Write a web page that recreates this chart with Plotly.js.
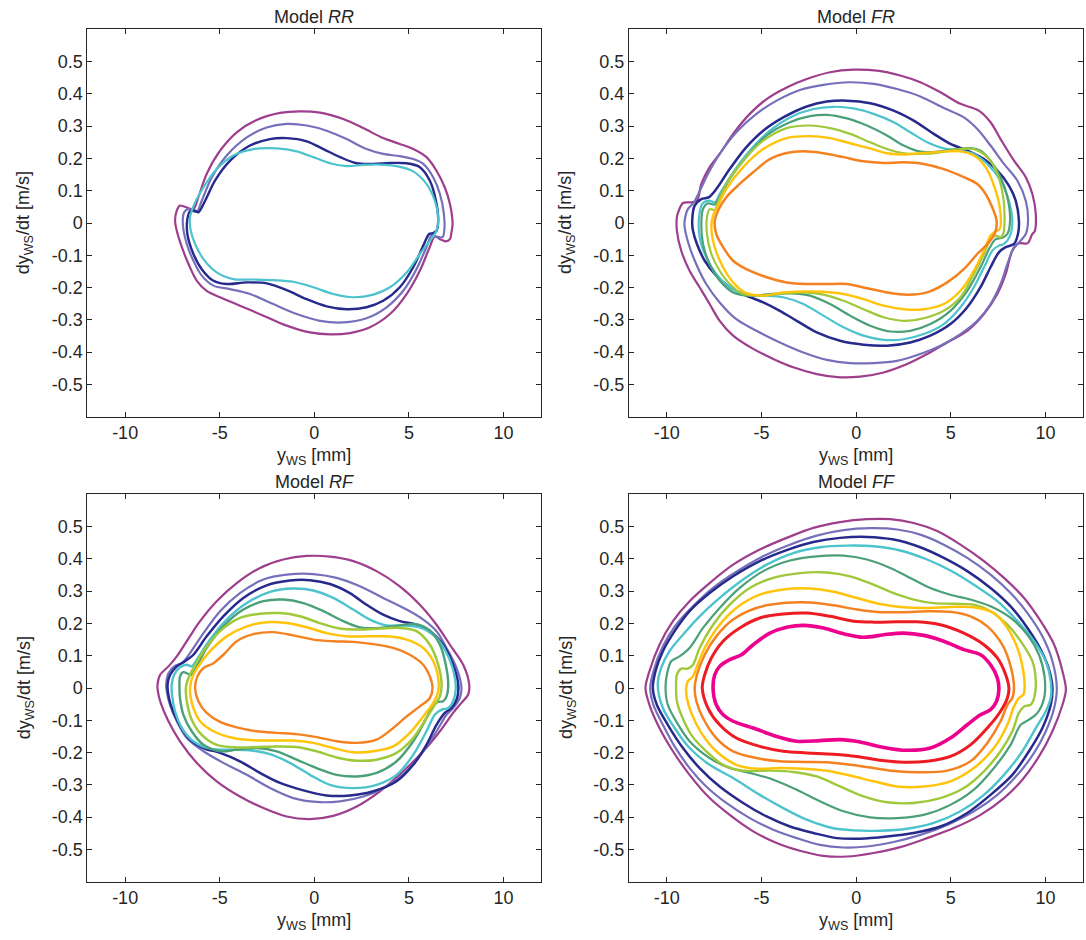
<!DOCTYPE html>
<html>
<head>
<meta charset="utf-8">
<script src="https://cdn.plot.ly/plotly-3.0.1.min.js"></script>
<style>
html,body{margin:0;padding:0;background:#fff;}
#chart{width:1086px;height:940px;}
</style>
</head>
<body>
<div id="chart"></div>
<script>
// ---------- Tick labels ----------
const xTickVals = [-10, -5, 0, 5, 10];
const xTickText = ["-10", "-5", "0", "5", "10"];
const yTickVals = [0.5, 0.4, 0.3, 0.2, 0.1, 0, -0.1, -0.2, -0.3, -0.4, -0.5];
const yTickText = ["0.5", "0.4", "0.3", "0.2", "0.1", "0", "-0.1", "-0.2", "-0.3", "-0.4", "-0.5"];
const panelTitles = ["Model <i>RR</i>", "Model <i>FR</i>", "Model <i>RF</i>", "Model <i>FF</i>"];

// ---------- Model RR: [y_WS (mm), dy_WS/dt (m/s)] ----------
const rr_magenta = [[-7.1,0.054],[-6.4,0.043],[-6.13,0.08],[-5.69,0.152],[-4.98,0.224],[-4.1,0.281],[-3.05,0.319],[-1.81,0.341],[-0.76,0.346],[0.3,0.342],[1.53,0.322],[2.59,0.294],[3.64,0.263],[4.52,0.245],[5.23,0.229],[5.93,0.204],[6.46,0.162],[6.9,0.11],[7.17,0.059],[7.31,-0.003],[7.25,-0.029],[7.17,-0.05],[6.95,-0.057],[6.64,-0.05],[6.37,-0.042],[6.1,-0.075],[5.58,-0.148],[4.88,-0.22],[4.0,-0.282],[2.94,-0.323],[1.88,-0.341],[0.83,-0.345],[-0.23,-0.339],[-1.46,-0.318],[-2.69,-0.287],[-3.93,-0.256],[-4.98,-0.23],[-5.69,-0.21],[-6.21,-0.179],[-6.65,-0.127],[-7.0,-0.075],[-7.27,-0.024],[-7.36,0.007],[-7.27,0.038]];
const rr_lavender = [[-6.2,0.035],[-5.95,0.069],[-5.42,0.141],[-4.63,0.209],[-3.57,0.265],[-2.52,0.296],[-1.46,0.307],[-0.4,0.302],[0.65,0.286],[1.71,0.26],[2.76,0.229],[3.64,0.214],[4.52,0.207],[5.23,0.198],[5.76,0.183],[6.29,0.141],[6.64,0.09],[6.85,0.028],[6.87,-0.024],[6.78,-0.044],[6.46,-0.042],[6.2,-0.039],[5.93,-0.075],[5.4,-0.143],[4.7,-0.21],[3.82,-0.261],[2.76,-0.295],[1.53,-0.308],[0.3,-0.303],[-0.93,-0.282],[-2.17,-0.251],[-3.4,-0.22],[-4.45,-0.205],[-5.33,-0.194],[-5.95,-0.163],[-6.39,-0.117],[-6.74,-0.065],[-6.95,-0.003],[-6.88,0.033],[-6.65,0.043],[-6.39,0.036]];
const rr_navy = [[-6.13,0.033],[-5.77,0.069],[-5.25,0.131],[-4.45,0.193],[-3.4,0.24],[-2.34,0.26],[-1.46,0.263],[-0.4,0.253],[0.48,0.229],[1.36,0.204],[2.24,0.185],[3.12,0.183],[4.0,0.186],[4.88,0.185],[5.58,0.173],[6.11,0.131],[6.43,0.069],[6.55,0.007],[6.46,-0.024],[6.25,-0.032],[6.07,-0.034],[5.76,-0.07],[5.23,-0.137],[4.52,-0.199],[3.64,-0.241],[2.76,-0.261],[1.71,-0.267],[0.65,-0.258],[-0.4,-0.236],[-1.46,-0.208],[-2.52,-0.187],[-3.57,-0.184],[-4.63,-0.189],[-5.33,-0.179],[-5.95,-0.143],[-6.39,-0.096],[-6.71,-0.034],[-6.71,0.012],[-6.57,0.036],[-6.3,0.038]];
const rr_cyan = [[-6.57,0.018],[-6.3,0.064],[-5.86,0.11],[-5.16,0.167],[-4.28,0.209],[-3.22,0.229],[-1.99,0.231],[-0.93,0.222],[-0.05,0.204],[0.83,0.185],[1.71,0.176],[2.59,0.18],[3.47,0.181],[4.35,0.176],[5.23,0.16],[5.93,0.121],[6.37,0.069],[6.55,0.018],[6.46,-0.024],[6.11,-0.055],[5.58,-0.096],[4.88,-0.153],[4.0,-0.199],[3.12,-0.222],[2.06,-0.23],[1.0,-0.22],[-0.05,-0.199],[-1.11,-0.182],[-2.17,-0.177],[-3.22,-0.175],[-4.28,-0.174],[-5.16,-0.153],[-5.86,-0.112],[-6.3,-0.065],[-6.53,-0.024]];

// ---------- Model FR ----------
const fr_magenta = [[-9.42,0.03],[-9.15,0.062],[-8.71,0.064],[-8.41,0.069],[-8.18,0.121],[-7.74,0.173],[-7.21,0.214],[-6.5,0.276],[-5.62,0.338],[-4.73,0.384],[-3.67,0.42],[-2.61,0.446],[-1.38,0.467],[-0.14,0.475],[1.1,0.472],[2.33,0.457],[3.39,0.436],[4.45,0.405],[5.51,0.369],[6.48,0.348],[7.1,0.312],[7.63,0.26],[8.34,0.193],[8.96,0.142],[9.31,0.09],[9.49,0.028],[9.43,-0.026],[9.31,-0.034],[9.05,-0.063],[8.6,-0.063],[8.25,-0.086],[7.9,-0.158],[7.46,-0.22],[6.75,-0.282],[5.87,-0.334],[4.81,-0.37],[3.75,-0.406],[2.69,-0.437],[1.45,-0.463],[0.21,-0.476],[-0.85,-0.478],[-2.08,-0.468],[-3.32,-0.447],[-4.38,-0.421],[-5.44,-0.39],[-6.5,-0.349],[-7.21,-0.303],[-7.74,-0.251],[-8.27,-0.199],[-8.8,-0.148],[-9.24,-0.086],[-9.47,-0.024],[-9.47,0.018]];
const fr_lavender = [[-9.06,0.007],[-8.89,0.043],[-8.59,0.062],[-7.83,0.152],[-7.21,0.214],[-6.33,0.281],[-5.27,0.338],[-4.2,0.379],[-2.97,0.412],[-1.73,0.428],[-0.32,0.436],[0.92,0.431],[2.16,0.415],[3.39,0.392],[4.63,0.356],[5.69,0.327],[6.4,0.291],[7.1,0.24],[7.81,0.183],[8.52,0.131],[8.96,0.069],[9.08,0.007],[8.96,-0.034],[8.6,-0.06],[8.34,-0.075],[7.99,-0.127],[7.63,-0.189],[7.1,-0.251],[6.4,-0.303],[5.51,-0.344],[4.45,-0.38],[3.39,-0.406],[2.16,-0.427],[0.92,-0.434],[-0.32,-0.434],[-1.55,-0.424],[-2.79,-0.401],[-4.03,-0.37],[-5.27,-0.334],[-6.33,-0.298],[-7.21,-0.246],[-7.92,-0.189],[-8.45,-0.127],[-8.85,-0.065],[-9.06,-0.013]];
const fr_navy = [[-8.66,0.007],[-8.53,0.054],[-8.18,0.074],[-7.77,0.08],[-7.39,0.105],[-6.68,0.167],[-5.8,0.235],[-4.91,0.286],[-3.85,0.327],[-2.61,0.361],[-1.55,0.376],[-0.49,0.379],[0.74,0.371],[1.98,0.348],[3.04,0.317],[4.1,0.276],[4.98,0.245],[5.87,0.224],[6.75,0.198],[7.46,0.162],[8.07,0.116],[8.43,0.069],[8.6,0.007],[8.55,-0.034],[8.34,-0.065],[7.9,-0.075],[7.54,-0.091],[7.1,-0.137],[6.57,-0.199],[5.87,-0.261],[4.98,-0.313],[3.92,-0.349],[2.86,-0.37],[1.63,-0.38],[0.39,-0.377],[-0.85,-0.365],[-2.08,-0.339],[-3.14,-0.303],[-4.03,-0.272],[-4.91,-0.246],[-5.8,-0.225],[-6.68,-0.199],[-7.39,-0.163],[-8.0,-0.117],[-8.41,-0.065],[-8.62,-0.024]];
const fr_cyan = [[-7.21,0.09],[-6.5,0.157],[-5.62,0.224],[-4.56,0.286],[-3.5,0.327],[-2.26,0.353],[-1.2,0.36],[-0.14,0.355],[0.92,0.338],[1.98,0.312],[2.86,0.281],[3.75,0.25],[4.63,0.231],[5.51,0.224],[6.22,0.214],[6.93,0.183],[7.63,0.131],[8.07,0.069],[8.25,0.007],[8.13,-0.039],[7.81,-0.065],[7.54,-0.07],[7.19,-0.086],[6.84,-0.127],[6.22,-0.199],[5.51,-0.261],[4.63,-0.313],[3.57,-0.344],[2.51,-0.36],[1.45,-0.362],[0.39,-0.349],[-0.67,-0.323],[-1.73,-0.287],[-2.79,-0.251],[-3.85,-0.23],[-4.91,-0.225],[-5.8,-0.222],[-6.68,-0.199],[-7.39,-0.158],[-7.92,-0.106],[-8.27,-0.044],[-8.3,0.018],[-8.13,0.059],[-7.77,0.069],[-7.47,0.064]];
const fr_teal = [[-7.21,0.08],[-6.68,0.136],[-5.8,0.204],[-4.73,0.271],[-3.5,0.312],[-2.44,0.331],[-1.55,0.335],[-0.49,0.324],[0.57,0.302],[1.63,0.271],[2.51,0.24],[3.39,0.221],[4.45,0.222],[5.34,0.229],[6.04,0.232],[6.57,0.224],[7.1,0.193],[7.63,0.142],[7.99,0.08],[8.13,0.007],[7.99,-0.034],[7.72,-0.046],[7.37,-0.05],[7.07,-0.075],[6.57,-0.137],[5.87,-0.21],[4.98,-0.272],[3.92,-0.313],[2.86,-0.334],[1.8,-0.336],[0.74,-0.318],[-0.32,-0.287],[-1.38,-0.251],[-2.44,-0.225],[-3.5,-0.218],[-4.56,-0.22],[-5.62,-0.225],[-6.5,-0.215],[-7.21,-0.178],[-7.74,-0.127],[-8.09,-0.065],[-8.18,-0.003],[-8.09,0.043],[-7.83,0.061],[-7.47,0.057]];
const fr_yellowgreen = [[-7.3,0.064],[-6.86,0.121],[-5.97,0.193],[-4.91,0.255],[-3.67,0.294],[-2.44,0.302],[-1.38,0.294],[-0.32,0.276],[0.74,0.25],[1.63,0.229],[2.51,0.216],[3.39,0.214],[4.45,0.219],[5.51,0.229],[6.22,0.229],[6.93,0.204],[7.46,0.152],[7.77,0.08],[7.84,0.007],[7.77,-0.034],[7.63,-0.044],[7.37,-0.039],[7.1,-0.05],[6.75,-0.096],[6.22,-0.158],[5.51,-0.23],[4.63,-0.272],[3.57,-0.295],[2.51,-0.303],[1.45,-0.292],[0.39,-0.267],[-0.67,-0.241],[-1.73,-0.222],[-2.79,-0.215],[-3.85,-0.218],[-4.91,-0.225],[-5.97,-0.22],[-6.68,-0.189],[-7.21,-0.148],[-7.65,-0.096],[-7.88,-0.034],[-7.88,0.018],[-7.74,0.043],[-7.47,0.04]];
const fr_gold = [[-7.3,0.054],[-6.86,0.105],[-5.97,0.173],[-4.91,0.229],[-3.67,0.263],[-2.44,0.269],[-1.38,0.263],[-0.32,0.247],[0.74,0.231],[1.63,0.216],[2.51,0.212],[3.39,0.216],[4.45,0.221],[5.51,0.222],[6.22,0.209],[6.84,0.173],[7.37,0.1],[7.63,0.028],[7.58,-0.019],[7.37,-0.026],[7.1,-0.039],[6.75,-0.086],[6.22,-0.148],[5.51,-0.21],[4.63,-0.251],[3.57,-0.267],[2.51,-0.267],[1.45,-0.256],[0.39,-0.236],[-0.67,-0.22],[-1.73,-0.213],[-2.79,-0.212],[-3.85,-0.215],[-4.91,-0.225],[-5.88,-0.215],[-6.5,-0.184],[-7.03,-0.137],[-7.47,-0.075],[-7.65,-0.013],[-7.56,0.023]];
const fr_orange = [[-7.47,0.007],[-7.3,0.038],[-6.86,0.08],[-6.15,0.121],[-5.44,0.157],[-4.56,0.198],[-3.67,0.217],[-2.79,0.222],[-1.73,0.216],[-0.67,0.204],[0.39,0.191],[1.45,0.186],[2.51,0.188],[3.57,0.183],[4.63,0.167],[5.69,0.142],[6.4,0.121],[6.84,0.09],[7.19,0.049],[7.42,0.007],[7.37,-0.024],[7.01,-0.06],[6.4,-0.096],[5.69,-0.143],[4.81,-0.184],[3.75,-0.215],[2.69,-0.222],[1.63,-0.215],[0.57,-0.202],[-0.49,-0.189],[-1.55,-0.189],[-2.61,-0.189],[-3.67,-0.184],[-4.73,-0.168],[-5.8,-0.143],[-6.5,-0.117],[-7.03,-0.075],[-7.39,-0.034]];

// ---------- Model RF ----------
const rf_magenta = [[-8.29,0.01],[-8.15,0.041],[-7.71,0.067],[-7.27,0.098],[-6.74,0.145],[-6.04,0.207],[-5.16,0.269],[-4.1,0.325],[-2.87,0.372],[-1.64,0.398],[-0.4,0.409],[0.83,0.407],[2.06,0.393],[3.29,0.362],[4.52,0.315],[5.58,0.258],[6.46,0.196],[7.17,0.134],[7.87,0.072],[8.19,0.01],[8.13,-0.021],[7.78,-0.046],[7.34,-0.077],[6.64,-0.134],[5.76,-0.196],[4.7,-0.258],[3.47,-0.32],[2.24,-0.367],[1.0,-0.396],[-0.23,-0.406],[-1.46,-0.398],[-2.69,-0.372],[-3.93,-0.336],[-5.16,-0.289],[-6.21,-0.232],[-7.1,-0.165],[-7.71,-0.103],[-8.12,-0.046],[-8.27,-0.01]];
const rf_lavender = [[-7.83,0.01],[-7.71,0.046],[-7.36,0.069],[-7.0,0.077],[-6.57,0.108],[-5.86,0.17],[-4.98,0.238],[-3.93,0.294],[-2.69,0.336],[-1.46,0.351],[-0.05,0.353],[1.18,0.341],[2.41,0.315],[3.64,0.279],[4.88,0.243],[5.76,0.212],[6.46,0.176],[6.99,0.124],[7.52,0.062],[7.78,0.0],[7.69,-0.031],[7.34,-0.062],[6.99,-0.083],[6.46,-0.134],[5.76,-0.196],[4.88,-0.258],[3.82,-0.305],[2.59,-0.336],[1.36,-0.351],[0.12,-0.353],[-1.11,-0.341],[-2.34,-0.31],[-3.57,-0.269],[-4.81,-0.232],[-5.86,-0.196],[-6.74,-0.155],[-7.27,-0.103],[-7.66,-0.046],[-7.8,-0.01]];
const rf_navy = [[-7.76,0.01],[-7.62,0.041],[-7.27,0.067],[-6.83,0.083],[-6.39,0.103],[-5.69,0.16],[-4.81,0.222],[-3.75,0.279],[-2.52,0.318],[-1.29,0.333],[-0.23,0.334],[0.83,0.322],[1.88,0.294],[2.76,0.258],[3.64,0.227],[4.52,0.207],[5.4,0.196],[6.11,0.176],[6.81,0.134],[7.34,0.072],[7.61,0.01],[7.55,-0.031],[7.25,-0.062],[6.9,-0.077],[6.46,-0.114],[5.93,-0.176],[5.23,-0.238],[4.35,-0.289],[3.12,-0.32],[1.88,-0.333],[0.65,-0.333],[-0.58,-0.317],[-1.81,-0.294],[-2.87,-0.263],[-3.93,-0.227],[-4.98,-0.201],[-5.86,-0.186],[-6.65,-0.155],[-7.18,-0.108],[-7.59,-0.052],[-7.73,-0.015]];
const rf_cyan = [[-7.54,0.01],[-7.41,0.041],[-7.1,0.064],[-6.74,0.072],[-6.48,0.067],[-6.21,0.088],[-5.51,0.15],[-4.63,0.212],[-3.57,0.263],[-2.34,0.298],[-1.11,0.308],[-0.05,0.302],[1.0,0.279],[2.06,0.243],[2.94,0.212],[3.82,0.194],[4.7,0.194],[5.58,0.188],[6.29,0.165],[6.9,0.119],[7.31,0.062],[7.48,0.0],[7.34,-0.041],[7.08,-0.062],[6.73,-0.067],[6.37,-0.083],[5.93,-0.134],[5.23,-0.207],[4.35,-0.269],[3.29,-0.3],[2.06,-0.31],[0.83,-0.3],[-0.23,-0.269],[-1.29,-0.232],[-2.34,-0.205],[-3.4,-0.193],[-4.45,-0.191],[-5.51,-0.188],[-6.39,-0.165],[-7.0,-0.124],[-7.36,-0.072],[-7.52,-0.021]];
const rf_teal = [[-7.13,0.01],[-7.1,0.036],[-6.92,0.049],[-6.65,0.043],[-6.48,0.041],[-6.21,0.067],[-5.69,0.124],[-4.81,0.191],[-3.75,0.243],[-2.69,0.269],[-1.64,0.274],[-0.58,0.263],[0.48,0.238],[1.53,0.207],[2.41,0.188],[3.47,0.186],[4.52,0.194],[5.4,0.198],[6.11,0.178],[6.64,0.134],[6.95,0.072],[7.08,0.01],[6.99,-0.026],[6.81,-0.041],[6.55,-0.043],[6.29,-0.052],[5.93,-0.093],[5.23,-0.165],[4.35,-0.227],[3.29,-0.263],[2.24,-0.274],[1.18,-0.269],[0.12,-0.248],[-0.93,-0.222],[-1.99,-0.196],[-3.05,-0.186],[-4.1,-0.191],[-4.98,-0.196],[-5.86,-0.176],[-6.48,-0.134],[-6.92,-0.083],[-7.1,-0.031]];
const rf_yellowgreen = [[-6.78,0.005],[-6.65,0.031],[-6.39,0.062],[-5.86,0.114],[-4.98,0.176],[-3.93,0.217],[-2.87,0.23],[-1.81,0.232],[-0.76,0.222],[0.3,0.201],[1.36,0.184],[2.41,0.181],[3.47,0.184],[4.52,0.186],[5.4,0.176],[6.11,0.134],[6.55,0.072],[6.73,0.01],[6.64,-0.026],[6.37,-0.052],[5.93,-0.093],[5.23,-0.155],[4.35,-0.201],[3.29,-0.222],[2.24,-0.225],[1.18,-0.215],[0.12,-0.196],[-0.93,-0.183],[-1.99,-0.181],[-3.05,-0.183],[-4.1,-0.184],[-5.16,-0.176],[-5.95,-0.145],[-6.48,-0.098],[-6.74,-0.041]];
const rf_gold = [[-6.57,0.0],[-6.43,0.036],[-6.13,0.067],[-5.51,0.114],[-4.63,0.16],[-3.57,0.191],[-2.52,0.204],[-1.46,0.201],[-0.4,0.188],[0.65,0.17],[1.71,0.16],[2.76,0.16],[3.82,0.16],[4.88,0.15],[5.76,0.124],[6.29,0.083],[6.55,0.031],[6.55,-0.01],[6.29,-0.046],[5.76,-0.088],[5.05,-0.139],[4.17,-0.181],[3.12,-0.196],[2.06,-0.199],[1.0,-0.186],[-0.05,-0.17],[-1.11,-0.163],[-2.17,-0.163],[-3.22,-0.162],[-4.28,-0.155],[-5.33,-0.134],[-6.04,-0.103],[-6.39,-0.062],[-6.53,-0.031]];
const rf_orange = [[-6.3,0.0],[-6.18,0.036],[-5.86,0.062],[-5.33,0.077],[-4.81,0.103],[-4.1,0.145],[-3.22,0.167],[-2.17,0.173],[-1.11,0.163],[-0.05,0.15],[1.0,0.145],[2.06,0.143],[3.12,0.136],[4.17,0.124],[5.05,0.103],[5.76,0.072],[6.11,0.036],[6.25,0.0],[6.11,-0.031],[5.58,-0.057],[4.88,-0.088],[4.17,-0.124],[3.29,-0.16],[2.24,-0.17],[1.18,-0.165],[0.12,-0.152],[-0.93,-0.143],[-1.99,-0.139],[-3.05,-0.134],[-4.1,-0.122],[-4.98,-0.105],[-5.69,-0.077],[-6.13,-0.041]];

// ---------- Model FF ----------
const ff_magenta = [[-11.13,0.0],[-10.92,0.052],[-10.39,0.134],[-9.68,0.207],[-8.8,0.269],[-7.74,0.325],[-6.5,0.382],[-5.09,0.429],[-3.67,0.465],[-2.26,0.496],[-0.85,0.514],[0.57,0.523],[1.8,0.523],[3.04,0.511],[4.28,0.486],[5.51,0.444],[6.75,0.393],[7.81,0.341],[8.87,0.279],[9.75,0.207],[10.46,0.134],[10.9,0.052],[11.08,-0.005],[10.9,-0.052],[10.37,-0.134],[9.66,-0.212],[8.78,-0.284],[7.81,-0.341],[6.57,-0.393],[5.16,-0.434],[3.75,-0.465],[2.33,-0.493],[0.92,-0.511],[-0.49,-0.522],[-1.73,-0.52],[-2.97,-0.504],[-4.2,-0.48],[-5.44,-0.444],[-6.68,-0.393],[-7.74,-0.341],[-8.8,-0.269],[-9.68,-0.196],[-10.39,-0.124],[-10.92,-0.052]];
const ff_lavender = [[-10.88,0.0],[-10.71,0.052],[-10.21,0.129],[-9.51,0.196],[-8.62,0.253],[-7.56,0.31],[-6.33,0.36],[-4.91,0.408],[-3.5,0.444],[-2.08,0.472],[-0.67,0.489],[0.74,0.495],[2.16,0.491],[3.39,0.475],[4.63,0.444],[5.87,0.403],[7.1,0.351],[8.16,0.294],[9.05,0.232],[9.84,0.16],[10.37,0.083],[10.6,0.0],[10.46,-0.062],[10.02,-0.134],[9.4,-0.201],[8.52,-0.269],[7.46,-0.331],[6.22,-0.382],[4.81,-0.424],[3.39,-0.455],[1.98,-0.477],[0.57,-0.491],[-0.67,-0.494],[-1.91,-0.486],[-3.14,-0.465],[-4.38,-0.439],[-5.62,-0.403],[-6.86,-0.356],[-7.92,-0.305],[-8.8,-0.248],[-9.59,-0.181],[-10.21,-0.114],[-10.71,-0.052]];
const ff_navy = [[-10.74,0.0],[-10.6,0.052],[-10.21,0.114],[-9.59,0.176],[-8.8,0.238],[-7.74,0.294],[-6.5,0.346],[-5.09,0.393],[-3.67,0.427],[-2.26,0.452],[-0.85,0.465],[0.57,0.468],[1.98,0.46],[3.39,0.436],[4.63,0.403],[5.87,0.362],[7.1,0.31],[8.16,0.253],[9.05,0.186],[9.75,0.119],[10.19,0.057],[10.37,0.0],[10.28,-0.052],[9.84,-0.124],[9.13,-0.196],[8.25,-0.269],[7.1,-0.331],[5.87,-0.387],[4.45,-0.429],[3.04,-0.449],[1.63,-0.46],[0.21,-0.467],[-1.02,-0.465],[-2.26,-0.449],[-3.5,-0.429],[-4.73,-0.398],[-5.97,-0.356],[-7.21,-0.305],[-8.27,-0.248],[-9.15,-0.186],[-9.95,-0.114],[-10.53,-0.052]];
const ff_cyan = [[-10.48,0.01],[-10.3,0.062],[-9.86,0.114],[-9.15,0.165],[-8.27,0.222],[-7.21,0.279],[-5.97,0.336],[-4.73,0.382],[-3.32,0.418],[-1.91,0.436],[-0.49,0.441],[0.92,0.439],[2.33,0.426],[3.75,0.398],[4.98,0.364],[6.22,0.32],[7.46,0.269],[8.52,0.207],[9.4,0.145],[10.02,0.083],[10.28,0.021],[10.28,-0.031],[10.02,-0.072],[9.49,-0.124],[8.78,-0.196],[7.81,-0.269],[6.75,-0.331],[5.51,-0.382],[4.1,-0.418],[2.69,-0.436],[1.27,-0.442],[-0.14,-0.441],[-1.38,-0.432],[-2.61,-0.408],[-3.85,-0.372],[-5.09,-0.331],[-6.5,-0.279],[-7.74,-0.238],[-8.8,-0.186],[-9.59,-0.124],[-10.21,-0.062]];
const ff_teal = [[-10.07,0.0],[-10.0,0.041],[-9.77,0.083],[-9.33,0.098],[-8.8,0.124],[-8.09,0.186],[-7.21,0.248],[-6.15,0.31],[-4.91,0.362],[-3.5,0.395],[-2.08,0.408],[-0.67,0.41],[0.57,0.398],[1.8,0.372],[2.86,0.341],[3.92,0.31],[4.98,0.289],[6.04,0.274],[7.1,0.253],[8.16,0.217],[9.05,0.165],[9.66,0.103],[9.96,0.031],[9.93,-0.031],[9.58,-0.077],[9.13,-0.098],[8.69,-0.114],[8.16,-0.176],[7.28,-0.248],[6.22,-0.315],[4.98,-0.362],[3.57,-0.393],[2.16,-0.403],[0.74,-0.401],[-0.67,-0.382],[-1.91,-0.351],[-3.14,-0.315],[-4.38,-0.284],[-5.62,-0.263],[-6.68,-0.248],[-7.74,-0.217],[-8.8,-0.165],[-9.51,-0.103],[-9.95,-0.052]];
const ff_yellowgreen = [[-9.51,0.0],[-9.47,0.041],[-9.24,0.06],[-8.89,0.06],[-8.62,0.072],[-8.27,0.124],[-7.56,0.196],[-6.68,0.258],[-5.62,0.31],[-4.38,0.341],[-2.97,0.356],[-1.55,0.358],[-0.32,0.346],[0.92,0.32],[1.98,0.294],[3.04,0.274],[4.1,0.263],[5.16,0.261],[6.22,0.258],[7.1,0.238],[7.99,0.196],[8.69,0.145],[9.31,0.083],[9.49,0.021],[9.4,-0.031],[9.22,-0.052],[8.87,-0.057],[8.6,-0.077],[8.25,-0.134],[7.63,-0.196],[6.75,-0.258],[5.69,-0.31],[4.45,-0.341],[3.04,-0.356],[1.63,-0.354],[0.39,-0.336],[-0.85,-0.305],[-2.08,-0.274],[-3.32,-0.26],[-4.56,-0.256],[-5.97,-0.256],[-7.03,-0.238],[-7.92,-0.196],[-8.71,-0.145],[-9.24,-0.083],[-9.47,-0.041]];
const ff_gold = [[-8.98,0.0],[-8.89,0.021],[-8.62,0.036],[-8.41,0.067],[-8.0,0.124],[-7.21,0.196],[-6.33,0.248],[-5.09,0.289],[-3.85,0.305],[-2.44,0.308],[-1.2,0.298],[0.04,0.279],[1.27,0.26],[2.51,0.25],[3.75,0.248],[4.98,0.251],[6.22,0.25],[7.28,0.232],[7.99,0.186],[8.52,0.124],[8.83,0.052],[8.9,0.0],[8.83,-0.021],[8.6,-0.031],[8.34,-0.057],[7.99,-0.114],[7.28,-0.186],[6.22,-0.248],[4.98,-0.289],[3.57,-0.305],[2.16,-0.305],[0.92,-0.289],[-0.32,-0.271],[-1.55,-0.256],[-2.79,-0.25],[-4.03,-0.248],[-5.27,-0.25],[-6.33,-0.238],[-7.39,-0.196],[-8.18,-0.139],[-8.71,-0.077],[-8.94,-0.031]];
const ff_orange = [[-8.53,0.0],[-8.41,0.041],[-8.0,0.103],[-7.39,0.16],[-6.5,0.212],[-5.27,0.248],[-3.85,0.263],[-2.44,0.265],[-1.2,0.256],[0.04,0.243],[1.27,0.235],[2.51,0.235],[3.75,0.238],[4.98,0.236],[6.04,0.222],[6.93,0.191],[7.72,0.134],[8.16,0.067],[8.34,0.0],[8.25,-0.031],[7.99,-0.052],[7.63,-0.103],[6.93,-0.17],[6.04,-0.227],[4.81,-0.256],[3.39,-0.261],[2.16,-0.258],[0.92,-0.248],[-0.32,-0.238],[-1.55,-0.23],[-2.79,-0.229],[-4.03,-0.227],[-5.27,-0.217],[-6.5,-0.196],[-7.39,-0.155],[-8.09,-0.093],[-8.44,-0.041]];
const ff_red = [[-8.13,0.0],[-8.0,0.041],[-7.65,0.093],[-7.03,0.145],[-6.15,0.186],[-5.09,0.217],[-3.85,0.229],[-2.61,0.232],[-1.38,0.222],[-0.14,0.207],[0.92,0.204],[2.16,0.205],[3.22,0.205],[4.45,0.196],[5.69,0.17],[6.75,0.134],[7.46,0.093],[7.9,0.041],[8.07,0.0],[7.99,-0.031],[7.63,-0.072],[6.93,-0.124],[6.04,-0.176],[4.98,-0.212],[3.75,-0.227],[2.51,-0.23],[1.27,-0.224],[0.04,-0.212],[-1.2,-0.205],[-2.61,-0.201],[-3.85,-0.196],[-5.09,-0.181],[-6.33,-0.155],[-7.21,-0.114],[-7.83,-0.062]];
const ff_pink = [[-7.56,0.0],[-7.47,0.041],[-7.21,0.067],[-6.68,0.088],[-6.06,0.103],[-5.44,0.134],[-4.56,0.17],[-3.67,0.188],[-2.79,0.194],[-1.73,0.186],[-0.67,0.168],[0.39,0.157],[1.45,0.165],[2.51,0.17],[3.57,0.163],[4.63,0.145],[5.69,0.119],[6.57,0.103],[7.1,0.072],[7.46,0.031],[7.54,-0.005],[7.42,-0.041],[7.1,-0.067],[6.57,-0.083],[5.87,-0.114],[4.98,-0.155],[3.92,-0.186],[2.69,-0.193],[1.45,-0.184],[0.21,-0.167],[-0.85,-0.16],[-1.91,-0.163],[-3.14,-0.165],[-4.2,-0.15],[-5.44,-0.124],[-6.5,-0.103],[-7.03,-0.083],[-7.39,-0.052]];

// ---------- Styles ----------
const COL = {
  magenta: "#9E3E8C", lavender: "#7670BA", navy: "#27298C", cyan: "#4CC3CD",
  teal: "#4BA078", yellowgreen: "#9FC83A", gold: "#FFC40A", orange: "#F58220",
  red: "#ED1C24", pink: "#EC008C"
};

const panels = [
  {ax: "", curves: [[rr_magenta,"magenta",2.2],[rr_lavender,"lavender",2.2],[rr_navy,"navy",2.4],[rr_cyan,"cyan",2.2]]},
  {ax: "2", curves: [[fr_magenta,"magenta",2.2],[fr_lavender,"lavender",2.2],[fr_navy,"navy",2.5],[fr_cyan,"cyan",2.2],[fr_teal,"teal",2.2],[fr_yellowgreen,"yellowgreen",2.2],[fr_gold,"gold",2.4],[fr_orange,"orange",2.5]]},
  {ax: "3", curves: [[rf_magenta,"magenta",2.2],[rf_lavender,"lavender",2.2],[rf_navy,"navy",2.5],[rf_cyan,"cyan",2.4],[rf_teal,"teal",2.4],[rf_yellowgreen,"yellowgreen",2.5],[rf_gold,"gold",2.5],[rf_orange,"orange",2.4]]},
  {ax: "4", curves: [[ff_magenta,"magenta",2.2],[ff_lavender,"lavender",2.2],[ff_navy,"navy",2.5],[ff_cyan,"cyan",2.4],[ff_teal,"teal",2.2],[ff_yellowgreen,"yellowgreen",2.4],[ff_gold,"gold",2.5],[ff_orange,"orange",2.5],[ff_red,"red",3],[ff_pink,"pink",3.6]]}
];

const traces = [];
panels.forEach(p => {
  p.curves.forEach(c => {
    const pts = c[0].concat([c[0][0]]);
    traces.push({
      type: "scatter", mode: "lines",
      x: pts.map(q => q[0]), y: pts.map(q => q[1]),
      xaxis: "x" + p.ax, yaxis: "y" + p.ax,
      line: {color: COL[c[1]], width: c[2], shape: "spline", smoothing: 0.9},
      hoverinfo: "skip", showlegend: false
    });
  });
});

const W = 1086, H = 940;
const colX = [[87.3, 541.3], [629, 1083.3]];
const rowY = [[29.3, 416.7], [494.3, 881.7]];
const FONT = "Liberation Sans, Arial, Helvetica, sans-serif";
const INK = "#262626";
const FS = 18;

function xAxis(col, row) {
  return {
    domain: [colX[col][0] / W, colX[col][1] / W],
    anchor: "y" + (row * 2 + col === 0 ? "" : (row * 2 + col + 1)),
    range: [-12, 12], tickvals: xTickVals, ticktext: xTickText,
    ticks: "inside", ticklen: 5, tickwidth: 1, tickcolor: INK,
    showline: true, linecolor: INK, linewidth: 1, mirror: "ticks",
    showgrid: false, zeroline: false, fixedrange: true,
    tickfont: {family: FONT, size: FS, color: INK}, ticklabelstandoff: 0
  };
}
function yAxis(col, row) {
  return {
    domain: [1 - rowY[row][1] / H, 1 - rowY[row][0] / H],
    anchor: "x" + (row * 2 + col === 0 ? "" : (row * 2 + col + 1)),
    range: [-0.6, 0.6], tickvals: yTickVals, ticktext: yTickText,
    ticks: "inside", ticklen: 5, tickwidth: 1, tickcolor: INK,
    showline: true, linecolor: INK, linewidth: 1, mirror: "ticks",
    showgrid: false, zeroline: false, fixedrange: true,
    tickfont: {family: FONT, size: FS, color: INK}, ticklabelstandoff: 0
  };
}

const annotations = [];
for (let r = 0; r < 2; r++) {
  for (let c = 0; c < 2; c++) {
    const cx = (colX[c][0] + colX[c][1]) / 2 / W;
    const cy = 1 - (rowY[r][0] + rowY[r][1]) / 2 / H;
    annotations.push({
      text: panelTitles[r * 2 + c], xref: "paper", yref: "paper",
      x: cx, y: 1 - (rowY[r][0] - 12) / H, xanchor: "center", yanchor: "middle",
      showarrow: false, font: {family: FONT, size: FS, color: INK}
    });
    annotations.push({
      text: "y<sub>WS</sub> [mm]", xref: "paper", yref: "paper",
      x: cx, y: 1 - (rowY[r][1] + 40) / H, xanchor: "center", yanchor: "middle",
      showarrow: false, font: {family: FONT, size: FS, color: INK}
    });
    annotations.push({
      text: "dy<sub>WS</sub>/dt [m/s]", xref: "paper", yref: "paper",
      x: (colX[c][0] - 62) / W, y: cy, xanchor: "center", yanchor: "middle",
      textangle: -90, showarrow: false, font: {family: FONT, size: FS, color: INK}
    });
  }
}

const layout = {
  width: W, height: H,
  margin: {l: 0, r: 0, t: 0, b: 0, pad: 0},
  paper_bgcolor: "#ffffff", plot_bgcolor: "#ffffff",
  showlegend: false,
  xaxis: xAxis(0, 0), yaxis: yAxis(0, 0),
  xaxis2: xAxis(1, 0), yaxis2: yAxis(1, 0),
  xaxis3: xAxis(0, 1), yaxis3: yAxis(0, 1),
  xaxis4: xAxis(1, 1), yaxis4: yAxis(1, 1),
  annotations: annotations
};

Plotly.newPlot("chart", traces, layout, {displayModeBar: false, staticPlot: true});
</script>
</body>
</html>
